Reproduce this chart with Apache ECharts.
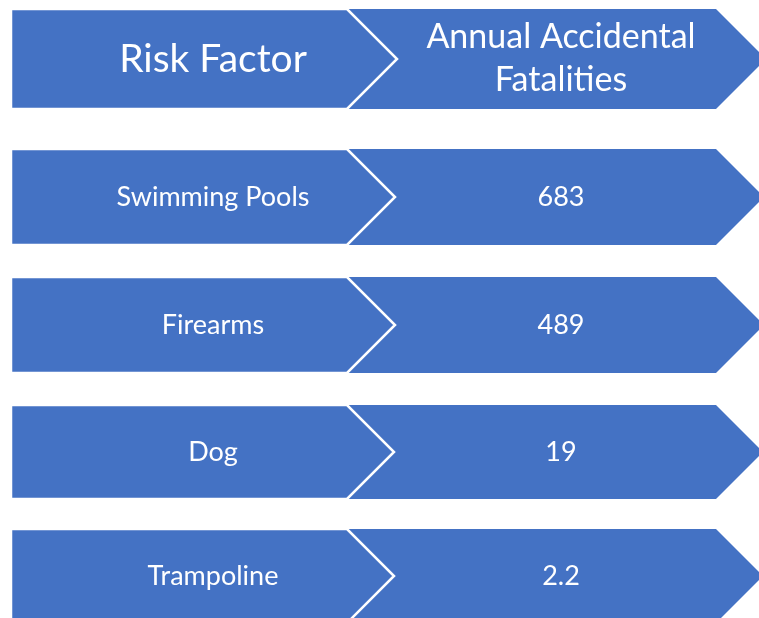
<!DOCTYPE html>
<html lang="en">
<head>
    <meta charset="UTF-8">
    <title>Risk Factors</title>
    <style type="text/css">
        html, body { margin: 0; padding: 0; background: #fff; }
        #chart { width: 759px; height: 618px; }
    </style>
    <script src="https://cdn.jsdelivr.net/npm/echarts@6/dist/echarts.min.js"></script>
</head>
<body>
<div id="chart"></div>
<script type="application/javascript">
    // table content
    var headers = ['Risk Factor', 'Annual Accidental\nFatalities'];
    var riskFactors = ['Swimming Pools', 'Firearms', 'Dog', 'Trampoline'];
    var fatalities = [683, 489, 19, 2.2];

    // layout (pixel units of the 759x618 canvas)
    var rowTop = [9, 149, 277, 405, 529];
    var rowBottom = [109, 245, 373, 499, 623];
    var leftX = 11, leftEnd = 347, rightEnd = 716;
    var leftTextX = 213, rightTextX = 561;
    var blue = '#4472C4';
    var font = 'Lato, "Noto Sans", sans-serif';

    var rows = [[headers[0], headers[1]]];
    for (var i = 0; i < riskFactors.length; i++) {
        rows.push([riskFactors[i], String(fatalities[i])]);
    }

    function renderItem(params, api) {
        var idx = params.dataIndex;
        var top = rowTop[idx], bot = rowBottom[idx];
        var mid = (top + bot) / 2;
        var d = (bot - top) / 2;
        var c = function (x, y) { return api.coord([x, y]); };
        var isHead = idx === 0;
        var label = rows[idx];

        var rightPts = [c(leftEnd, top), c(rightEnd, top), c(rightEnd + d, mid),
            c(rightEnd, bot), c(leftEnd, bot), c(leftEnd + d, mid)];
        var leftPts = [c(leftX, top), c(leftEnd, top), c(leftEnd + d, mid),
            c(leftEnd, bot), c(leftX, bot)];
        var pl = c(leftTextX, mid), pr = c(rightTextX, mid);

        return {
            type: 'group',
            children: [
                {type: 'polygon', shape: {points: rightPts}, style: {fill: blue}},
                {type: 'polygon', shape: {points: leftPts},
                    style: {fill: blue, stroke: '#fff', lineWidth: 2.5}},
                {type: 'text', style: {
                    text: label[0], x: pl[0], y: pl[1], fill: '#fff',
                    fontFamily: font, fontSize: isHead ? 39 : 27,
                    align: 'center', verticalAlign: 'middle',
                    textAlign: 'center', textVerticalAlign: 'middle'
                }},
                {type: 'text', style: {
                    text: label[1], x: pr[0], y: pr[1], fill: '#fff',
                    fontFamily: font, fontSize: isHead ? 34 : 27, lineHeight: 43,
                    align: 'center', verticalAlign: 'middle',
                    textAlign: 'center', textVerticalAlign: 'middle'
                }}
            ]
        };
    }

    var chart = echarts.init(document.getElementById('chart'));
    chart.setOption({
        animation: false,
        grid: {left: 0, right: 0, top: 0, bottom: 0},
        xAxis: {type: 'value', min: 0, max: 759, show: false},
        yAxis: {type: 'value', min: 0, max: 618, inverse: true, show: false},
        series: [{
            type: 'custom',
            clip: true,
            renderItem: renderItem,
            data: rows.map(function (r, i) { return [i]; })
        }]
    });
</script>
</body>
</html>
